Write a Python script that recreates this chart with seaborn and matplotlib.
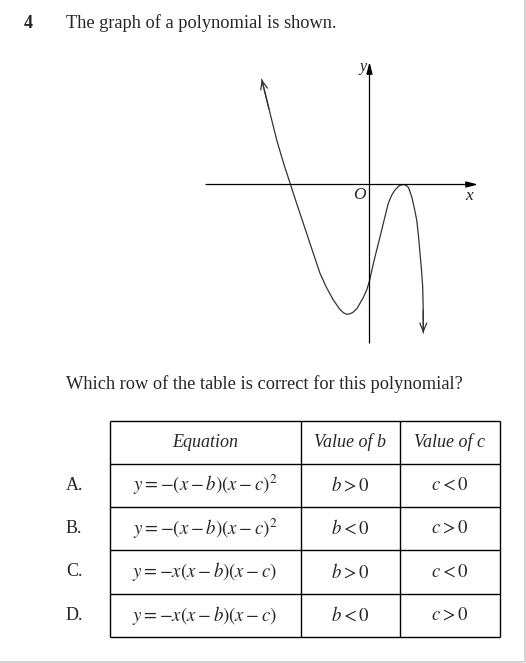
#import libraries
import seaborn as sns
import matplotlib.pyplot as plt
import numpy as np
import pandas as pd

#set global styles
sns.set_style("white")
plt.rcParams['font.family'] = ['Liberation Serif', 'DejaVu Serif']
plt.rcParams['mathtext.fontset'] = 'stix'

#curve points (1 unit = 10 px, origin at O)
curve_x = [-10.78, -10.05, -9.28, -8.6, -7.9, -7.25, -6.62, -5.8, -4.95, -4.35, -3.62,
           -2.95, -2.6, -2.28, -1.95, -1.65, -1.25, -0.95, -0.6, -0.28, 0.0, 0.25, 0.55,
           0.9, 1.22, 1.55, 1.88, 2.2, 2.55, 2.9, 3.15, 3.4, 3.65, 3.9, 4.22, 4.47, 4.72,
           4.9, 5.05, 5.2, 5.32, 5.37, 5.38]
curve_y = [10.52, 7.55, 4.45, 2.15, 0.0, -2.0, -3.88, -6.35, -8.88, -10.2, -11.55,
           -12.5, -12.83, -12.98, -12.93, -12.78, -12.4, -11.88, -11.25, -10.55, -9.65, -8.5, -7.22,
           -5.85, -4.55, -3.2, -1.88, -1.1, -0.55, -0.18, -0.05, 0.0, -0.08, -0.3, -1.22, -2.3, -3.55,
           -5.15, -6.88, -8.55, -10.22, -12.55, -14.85]

#table contents
headers = ["Equation", "Value of b", "Value of c"]
row_labels = ["A.", "B.", "C.", "D."]
equations = [r"$y = -(x - b)(x - c)^2$", r"$y = -(x - b)(x - c)^2$",
             r"$y = -x(x - b)(x - c)$", r"$y = -x(x - b)(x - c)$"]
b_values = [r"$b > 0$", r"$b < 0$", r"$b > 0$", r"$b < 0$"]
c_values = [r"$c < 0$", r"$c > 0$", r"$c < 0$", r"$c > 0$"]

W, H = 526, 663
fig = plt.figure(figsize=(W / 100, H / 100), dpi=100)

#graph axes, 10 px per unit, origin at pixel (369.5, 184.5)
gx0, gx1, gy0, gy1 = 200, 490, 55, 350
ax = fig.add_axes([gx0 / W, 1 - gy1 / H, (gx1 - gx0) / W, (gy1 - gy0) / H])
ax.set_xlim((gx0 - 369.5) / 10, (gx1 - 369.5) / 10)
ax.set_ylim((184.5 - gy1) / 10, (184.5 - gy0) / 10)
ax.axis("off")

#coordinate axes with filled arrowheads
axis_kw = dict(arrowstyle="-|>,head_length=0.7,head_width=0.18", color="black", lw=0.9,
               shrinkA=0, shrinkB=0)
ax.annotate("", xy=(10.85, 0), xytext=(-16.35, 0), arrowprops=axis_kw)
ax.annotate("", xy=(0, 12.25), xytext=(0, -15.85), arrowprops=axis_kw)
ax.text(-1.05, -1.05, "O", style="italic", fontsize=12.5, ha="center", va="center")
ax.text(9.95, -1.15, "x", style="italic", fontsize=12.5, ha="center", va="center")
ax.text(-0.65, 11.75, "y", style="italic", fontsize=11.5, ha="center", va="center")

#polynomial curve
sns.lineplot(x=curve_x, y=curve_y, sort=False, estimator=None, color="#333333",
             linewidth=0.9, ax=ax)
end_kw = dict(arrowstyle="->,head_length=0.6,head_width=0.25", color="#333333", lw=0.9,
              shrinkA=0, shrinkB=0)
ax.annotate("", xy=(curve_x[0], curve_y[0]), xytext=(curve_x[1], curve_y[1]), arrowprops=end_kw)
ax.annotate("", xy=(curve_x[-1], curve_y[-1]), xytext=(curve_x[-2], curve_y[-2]), arrowprops=end_kw)

#overlay in pixel coordinates for text and table
ov = fig.add_axes([0, 0, 1, 1], facecolor="none")
ov.set_xlim(0, W)
ov.set_ylim(H, 0)
ov.axis("off")

ov.text(24, 23, "4", fontsize=13, fontweight="bold", va="center")
ov.text(66, 23, "The graph of a polynomial is shown.", fontsize=13.2, va="center")
ov.text(66, 384, "Which row of the table is correct for this polynomial?", fontsize=13.2,
        va="center")

#table grid
col_x = [109.5, 300.5, 399.5, 499.5]
row_y = [421, 463.5, 507, 550, 593.5, 637]
ov.hlines(row_y, col_x[0], col_x[-1], color="black", lw=1)
ov.vlines(col_x, row_y[0], row_y[-1], color="black", lw=1)

centers = [(col_x[i] + col_x[i + 1]) / 2 for i in range(3)]
for cx, h in zip(centers, headers):
    ov.text(cx, (row_y[0] + row_y[1]) / 2, h, style="italic", fontsize=13,
            ha="center", va="center")
for i in range(4):
    cy = (row_y[i + 1] + row_y[i + 2]) / 2
    ov.text(66, cy, row_labels[i], fontsize=13, va="center")
    ov.text(centers[0], cy, equations[i], fontsize=13.5, ha="center", va="center")
    ov.text(centers[1], cy, b_values[i], fontsize=13.5, ha="center", va="center")
    ov.text(centers[2], cy, c_values[i], fontsize=13.5, ha="center", va="center")

#page edge
ov.vlines(524.5, 0, 661.5, color="#d4d4d4", lw=1.5)
ov.hlines(661.5, 0, 524.5, color="#d4d4d4", lw=1.5)

plt.savefig("out.png", dpi=100)
